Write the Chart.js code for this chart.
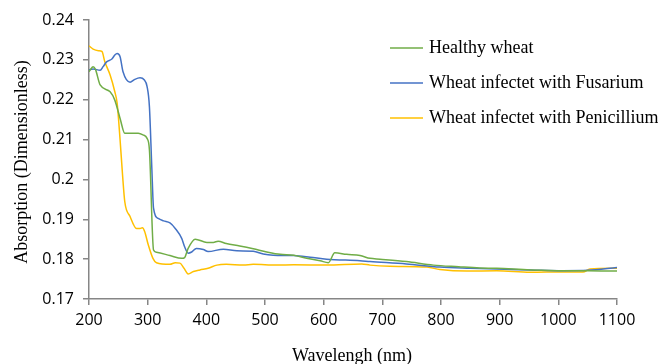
<!DOCTYPE html>
<html>
<head>
<meta charset="utf-8">
<script src="https://cdn.jsdelivr.net/npm/chart.js@4"></script>
<style>
  body { margin: 0; background: #fff; }
</style>
</head>
<body>
<canvas id="chart" width="658" height="364"></canvas>
<script>
// data
const healthyWl = [200, 207, 211, 219, 236, 244, 253, 261, 284, 292, 299, 303, 310, 315, 338, 358, 363, 369, 381, 401, 412, 420, 434, 457, 480, 503, 526, 549, 571, 594, 608, 619, 639, 662, 679, 696, 741, 787, 830, 866, 895, 952, 1008, 1050, 1100];
const healthyAbs = [0.2270, 0.2283, 0.2276, 0.2237, 0.2220, 0.2199, 0.2153, 0.2116, 0.2116, 0.2112, 0.2103, 0.2074, 0.1823, 0.1817, 0.1809, 0.1802, 0.1804, 0.1827, 0.1850, 0.1842, 0.1842, 0.1845, 0.1839, 0.1833, 0.1826, 0.1818, 0.1812, 0.1810, 0.1802, 0.1796, 0.1791, 0.1816, 0.1812, 0.1809, 0.1802, 0.1800, 0.1794, 0.1785, 0.1781, 0.1778, 0.1777, 0.1773, 0.1771, 0.1771, 0.1770];

const fusariumWl = [200, 207, 219, 224, 230, 239, 244, 248, 253, 258, 270, 278, 287, 294, 299, 303, 307, 310, 318, 327, 338, 347, 358, 363, 369, 375, 383, 395, 403, 429, 452, 480, 497, 514, 549, 577, 605, 662, 679, 741, 798, 850, 895, 952, 1008, 1050, 1100];
const fusariumAbs = [0.2275, 0.2277, 0.2274, 0.2283, 0.2295, 0.2302, 0.2312, 0.2316, 0.2308, 0.2270, 0.2244, 0.2251, 0.2255, 0.2250, 0.2233, 0.2182, 0.2032, 0.1928, 0.1902, 0.1896, 0.1891, 0.1877, 0.1852, 0.1831, 0.1815, 0.1818, 0.1827, 0.1824, 0.1819, 0.1825, 0.1821, 0.1820, 0.1813, 0.1810, 0.1809, 0.1805, 0.1800, 0.1796, 0.1794, 0.1788, 0.1780, 0.1777, 0.1775, 0.1773, 0.1771, 0.1772, 0.1779];

const penicilliumWl = [200, 207, 216, 222, 227, 236, 244, 248, 253, 257, 261, 270, 281, 287, 291, 295, 301, 309, 315, 338, 347, 355, 362, 369, 378, 389, 403, 418, 434, 463, 480, 520, 549, 605, 665, 679, 713, 776, 798, 844, 895, 952, 1008, 1042, 1054, 1100];
const penicilliumAbs = [0.2335, 0.2327, 0.2323, 0.2321, 0.2295, 0.2262, 0.2220, 0.2191, 0.2099, 0.2015, 0.1944, 0.1907, 0.1877, 0.1877, 0.1879, 0.1869, 0.1836, 0.1802, 0.1791, 0.1787, 0.1791, 0.1790, 0.1777, 0.1763, 0.1769, 0.1773, 0.1777, 0.1785, 0.1787, 0.1785, 0.1787, 0.1785, 0.1786, 0.1785, 0.1788, 0.1785, 0.1782, 0.1780, 0.1774, 0.1770, 0.1771, 0.1767, 0.1768, 0.1768, 0.1775, 0.1777];

const seriesNames = ['Healthy wheat', 'Wheat infectet with Fusarium', 'Wheat infectet with Penicillium'];
const seriesColors = ['#70AD47', '#4472C4', '#FFC000'];
const xTitle = 'Wavelengh (nm)';
const yTitle = 'Absorption (Dimensionless)';

function pairs(xs, ys) {
    return xs.map(function(x, i) { return {x: x, y: ys[i]}; });
}

const axisGrey = '#868686';
const serif = '"Liberation Serif", "Times New Roman", serif';
const tickFont = { family: '"Open Sans", sans-serif', size: 16 };

// legend + axis titles drawn by hand (legend sits inside the plot)
const extras = {
    id: 'extras',
    afterDraw(chart) {
        const ctx = chart.ctx;
        ctx.save();
        ctx.font = '18px ' + serif;
        ctx.fillStyle = '#000';
        ctx.textBaseline = 'middle';
        chart.data.datasets.forEach(function(ds, i) {
            const y = 48 + i * 35;
            ctx.strokeStyle = ds.borderColor;
            ctx.lineWidth = 1.5;
            ctx.beginPath();
            ctx.moveTo(390, y);
            ctx.lineTo(423, y);
            ctx.stroke();
            ctx.textAlign = 'left';
            ctx.fillText(ds.label, 429, y);
        });
        // x title
        ctx.textAlign = 'center';
        ctx.fillText(xTitle, 352, 356);
        // y title
        ctx.translate(22, 162);
        ctx.rotate(-Math.PI / 2);
        ctx.fillText(yTitle, 0, 0);
        ctx.restore();
    }
};

const datasets = [healthyAbs, fusariumAbs, penicilliumAbs].map(function(vals, i) {
    const wl = [healthyWl, fusariumWl, penicilliumWl][i];
    return {
        label: seriesNames[i],
        data: pairs(wl, vals),
        borderColor: seriesColors[i],
        backgroundColor: seriesColors[i],
        borderWidth: 1.5,
        pointRadius: 0,
        cubicInterpolationMode: 'monotone',
        fill: false
    };
});

new Chart(document.getElementById('chart'), {
    type: 'line',
    data: { datasets: datasets },
    options: {
        responsive: false,
        animation: false,
        layout: { padding: { left: 0, top: 20, right: 41, bottom: 0 } },
        plugins: { legend: { display: false }, tooltip: { enabled: false } },
        scales: {
            x: {
                type: 'linear',
                min: 200,
                max: 1100,
                ticks: {
                    stepSize: 100,
                    padding: 6,
                    color: '#000',
                    font: tickFont,
                    maxRotation: 0,
                    callback: function(v) { return String(v); }
                },
                grid: { drawOnChartArea: false, drawTicks: true, tickLength: 6, color: axisGrey, lineWidth: 1.5 },
                border: { color: axisGrey, width: 1.5 },
                afterFit(scale) { scale.height = 65; }
            },
            y: {
                min: 0.17,
                max: 0.24,
                ticks: {
                    stepSize: 0.01,
                    padding: 9,
                    color: '#000',
                    font: tickFont,
                    callback: function(v) { return String(+v.toFixed(2)); }
                },
                grid: { drawOnChartArea: false, drawTicks: true, tickLength: 6, color: axisGrey, lineWidth: 1.5 },
                border: { color: axisGrey, width: 1.5 },
                afterFit(scale) { scale.width = 89; }
            }
        }
    },
    plugins: [extras]
});
</script>
</body>
</html>
